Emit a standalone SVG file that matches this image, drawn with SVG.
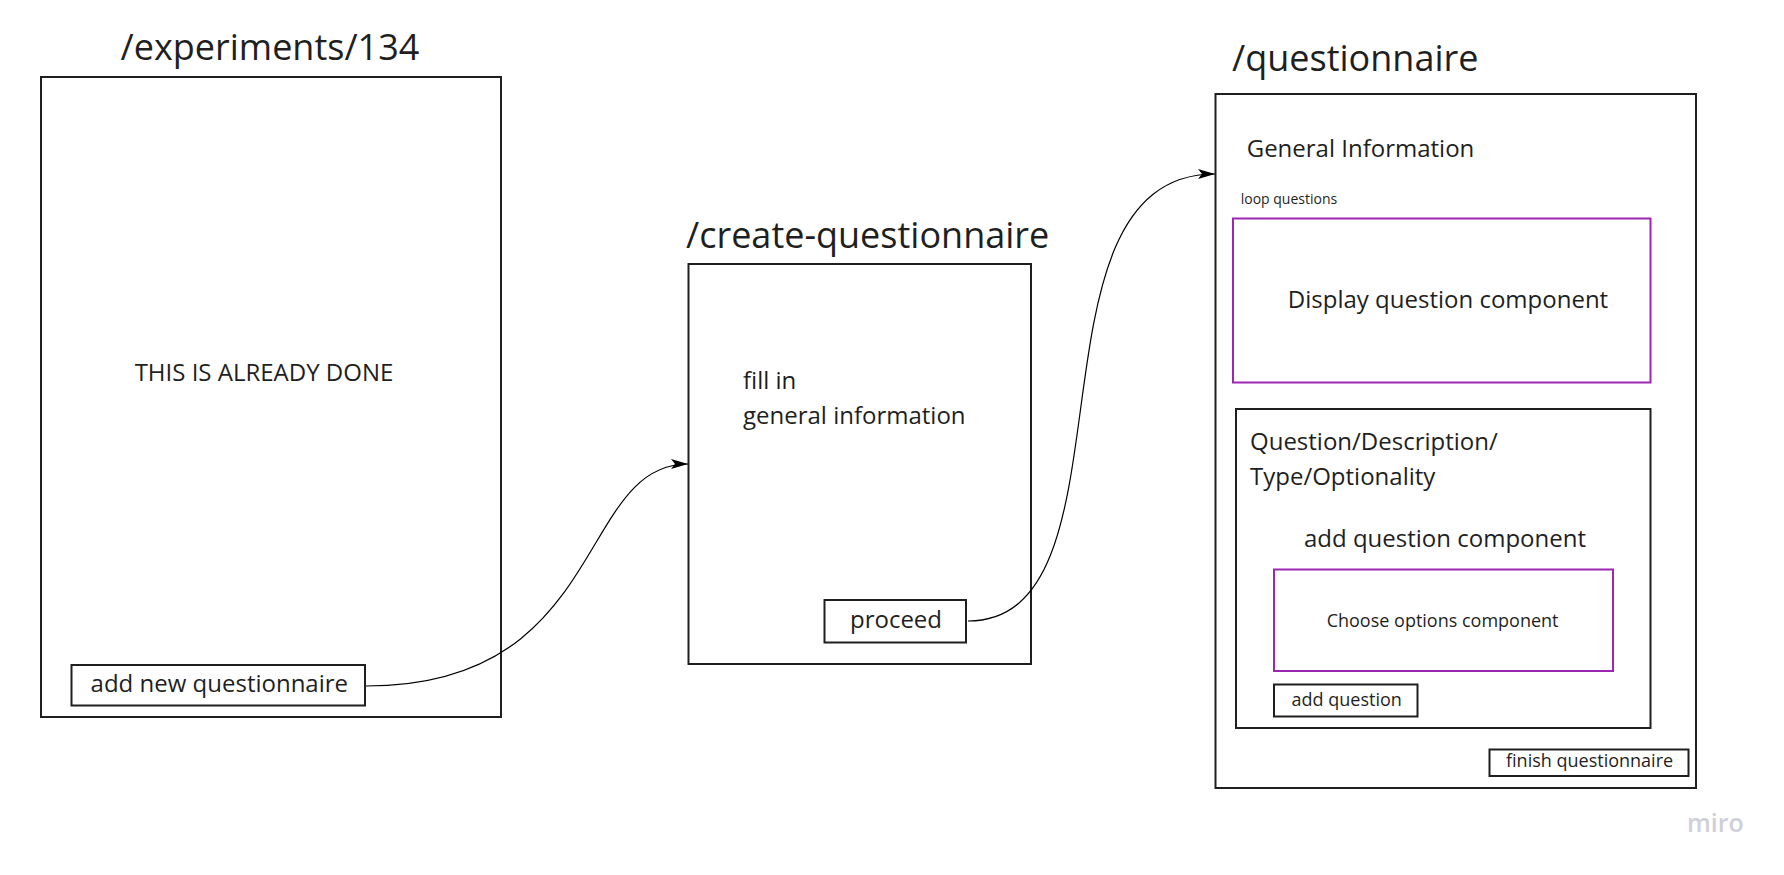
<svg xmlns="http://www.w3.org/2000/svg" width="1784" height="875" viewBox="0 0 1784 875">
<style>
  text { font-family: "Open Sans", "Noto Sans", "Liberation Sans", sans-serif; fill: #1f1f1f; }
  .title { font-size: 36px; }
  .t24 { font-size: 24px; }
  .t18 { font-size: 18px; }
  .t14 { font-size: 14px; }
  .mid { text-anchor: middle; }
  .box { fill: #ffffff; stroke: #1f1f1f; stroke-width: 2; }
  .pbox { fill: #ffffff; stroke: #9c27b0; stroke-width: 2; }
  .conn { fill: none; stroke: #000000; stroke-width: 1.2; }
  .miro { font-size: 25px; font-weight: 600; fill: #cfcfdc; }
</style>
<defs>
  <marker id="arrow" markerUnits="userSpaceOnUse" markerWidth="18" markerHeight="10" refX="17" refY="5" orient="auto">
    <path d="M0,0 L17,5 L0,10 L4,5 Z" fill="#000000"/>
  </marker>
</defs>
<rect width="1784" height="875" fill="#ffffff"/>

<g id="experiments">
  <text class="title" x="120.5" y="60">/experiments/134</text>
  <rect class="box" x="41" y="77" width="460" height="640"/>
  <text class="t24 mid" x="264" y="381">THIS IS ALREADY DONE</text>
</g>
<g id="add-new-questionnaire">
  <rect class="box" x="71.5" y="665" width="293.5" height="40.5"/>
  <text class="t24" x="90.6" y="692">add new questionnaire</text>
</g>

<g id="create-questionnaire">
  <text class="title" x="686" y="248">/create-questionnaire</text>
  <rect class="box" x="688.5" y="264" width="342.5" height="400"/>
  <text class="t24" x="743" y="389">fill in</text>
  <text class="t24" x="743" y="424">general information</text>
</g>
<g id="proceed">
  <rect class="box" x="824.5" y="600" width="141.5" height="42.5"/>
  <text class="t24 mid" x="896" y="628">proceed</text>
</g>

<g id="questionnaire">
  <text class="title" x="1232" y="71">/questionnaire</text>
  <rect class="box" x="1215.5" y="94" width="480.5" height="694"/>
  <text class="t24" x="1246.7" y="157">General Information</text>
  <text class="t14" x="1240.7" y="204">loop questions</text>
</g>
<g id="display-question-component">
  <rect class="pbox" x="1233" y="218.5" width="417.5" height="164"/>
  <text class="t24 mid" x="1448" y="308">Display question component</text>
</g>
<g id="add-question-component">
  <rect class="box" x="1236" y="409" width="414.5" height="319"/>
  <text class="t24" x="1250" y="450">Question/Description/</text>
  <text class="t24" x="1250" y="485">Type/Optionality</text>
  <text class="t24 mid" x="1445" y="547">add question component</text>
</g>
<g id="choose-options-component">
  <rect class="pbox" x="1274" y="569.5" width="339" height="101.5"/>
  <text class="t18 mid" x="1442.6" y="627">Choose options component</text>
</g>
<g id="add-question">
  <rect class="box" x="1274" y="684.5" width="143.5" height="32"/>
  <text class="t18" x="1291.6" y="706">add question</text>
</g>
<g id="finish-questionnaire">
  <rect class="box" x="1489.5" y="749.5" width="199" height="26.5"/>
  <text class="t18" x="1506" y="767">finish questionnaire</text>
</g>

<g id="connectors">
  <path class="conn" d="M366,686 C609,686 576,464 688,464" marker-end="url(#arrow)"/>
  <path class="conn" d="M968,621 C1142,621 1016,174 1215,174" marker-end="url(#arrow)"/>
</g>

<text class="miro" x="1687" y="832">miro</text>
</svg>
